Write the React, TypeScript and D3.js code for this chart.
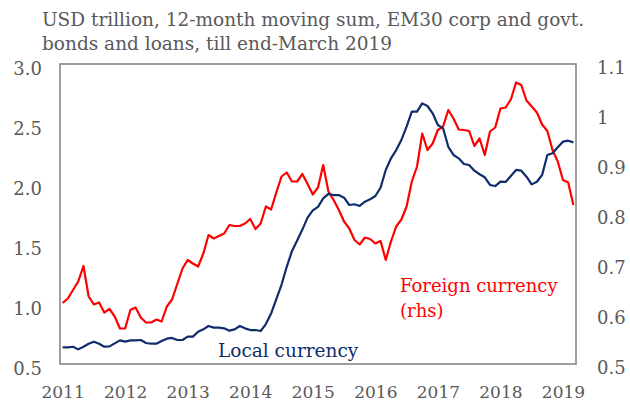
import React, { useEffect, useRef } from 'react';
import * as d3 from 'd3';

const titleLines = [
  'USD trillion, 12-month moving sum, EM30 corp and govt.',
  'bonds and loans, till end-March 2019'
];

const years = ['2011', '2012', '2013', '2014', '2015', '2016', '2017', '2018', '2019'];

// monthly categories, Jan 2011 .. Mar 2019
const months: string[] = [];
years.forEach(y => {
  for (let m = 1; m <= 12; m++) {
    if (y === '2019' && m > 3) break;
    months.push(`${y}-${String(m).padStart(2, '0')}`);
  }
});

// left axis, USD trillion
const localCurrency = [
  0.639, 0.639, 0.644, 0.622, 0.644, 0.669, 0.686, 0.669, 0.644, 0.647, 0.672, 0.697,
  0.686, 0.697, 0.697, 0.700, 0.675, 0.669, 0.669, 0.692, 0.711, 0.717, 0.700, 0.700,
  0.728, 0.728, 0.769, 0.789, 0.817, 0.803, 0.803, 0.797, 0.778, 0.789, 0.817, 0.797,
  0.783, 0.783, 0.775, 0.833, 0.920, 1.040, 1.160, 1.310, 1.440, 1.530, 1.620, 1.720,
  1.780, 1.810, 1.880, 1.917, 1.908, 1.908, 1.886, 1.825, 1.831, 1.817, 1.853, 1.872,
  1.900, 1.969, 2.117, 2.214, 2.283, 2.367, 2.478, 2.603, 2.603, 2.672, 2.650, 2.589,
  2.492, 2.464, 2.310, 2.242, 2.214, 2.167, 2.158, 2.111, 2.081, 2.056, 1.992, 1.983,
  2.019, 2.017, 2.067, 2.117, 2.111, 2.061, 1.997, 2.019, 2.075, 2.242, 2.256, 2.306,
  2.353, 2.361, 2.347
];

// right axis (rhs), USD trillion
const foreignCurrency = [
  0.622, 0.631, 0.648, 0.665, 0.696, 0.635, 0.619, 0.623, 0.603, 0.610, 0.595, 0.571,
  0.571, 0.608, 0.613, 0.593, 0.583, 0.583, 0.589, 0.585, 0.615, 0.629, 0.660, 0.691,
  0.708, 0.701, 0.695, 0.721, 0.758, 0.751, 0.756, 0.761, 0.778, 0.776, 0.776, 0.781,
  0.790, 0.770, 0.781, 0.815, 0.809, 0.843, 0.875, 0.883, 0.865, 0.865, 0.880, 0.860,
  0.839, 0.853, 0.898, 0.845, 0.828, 0.808, 0.785, 0.771, 0.748, 0.739, 0.753, 0.750,
  0.741, 0.746, 0.708, 0.745, 0.775, 0.789, 0.815, 0.865, 0.895, 0.961, 0.928, 0.941,
  0.968, 0.975, 1.008, 0.991, 0.969, 0.968, 0.966, 0.936, 0.951, 0.918, 0.965, 0.973,
  1.011, 1.013, 1.029, 1.063, 1.058, 1.027, 1.015, 1.003, 0.979, 0.966, 0.928, 0.905,
  0.868, 0.863, 0.818
];

const leftTicks = [0.5, 1.0, 1.5, 2.0, 2.5, 3.0];
const rightTicks = [0.5, 0.6, 0.7, 0.8, 0.9, 1.0, 1.1];
const rightTickLabels = ['0.5', '0.6', '0.7', '0.8', '0.9', '1', '1.1'];

const FONT = '"DejaVu Serif", Georgia, serif';
const GREY = '#595959';
const NAVY = '#0f2d6b';
const RED = '#ff0000';

const App = () => {
  const svgRef = useRef<SVGSVGElement>(null);

  useEffect(() => {
    const svg = d3.select(svgRef.current);
    svg.selectAll('*').remove();

    const plot = { left: 60, right: 576, top: 64, bottom: 364 };

    const x = d3.scalePoint<string>()
      .domain(months)
      .range([plot.left, plot.right])
      .padding(0.5);

    const yLeft = d3.scaleLinear().domain([0.5, 3.0]).range([plot.bottom, plot.top]);
    const yRight = d3.scaleLinear().domain([0.5, 1.1]).range([plot.bottom, plot.top]);

    // title
    svg.append('g')
      .selectAll('text')
      .data(titleLines)
      .enter().append('text')
      .attr('x', 42)
      .attr('y', (d, i) => 26 + i * 24)
      .style('font-family', FONT)
      .style('font-size', '18.5px')
      .style('fill', GREY)
      .text(d => d);

    // plot frame
    svg.append('rect')
      .attr('x', plot.left)
      .attr('y', plot.top)
      .attr('width', plot.right - plot.left)
      .attr('height', plot.bottom - plot.top)
      .attr('fill', 'none')
      .attr('stroke', '#808080')
      .attr('stroke-width', 1.5);

    // left axis
    const axL = svg.append('g')
      .attr('transform', `translate(${plot.left},0)`)
      .call(d3.axisLeft(yLeft).tickValues(leftTicks).tickFormat(d3.format('.1f')).tickSize(0).tickPadding(18));
    axL.select('.domain').remove();
    axL.selectAll('text')
      .attr('dy', '0.6em')
      .style('font-family', FONT)
      .style('font-size', '18px')
      .style('fill', GREY);

    // right axis
    const axR = svg.append('g')
      .attr('transform', `translate(${plot.right},0)`)
      .call(d3.axisRight(yRight).tickValues(rightTicks)
        .tickFormat((d, i) => rightTickLabels[i]).tickSize(0).tickPadding(21));
    axR.select('.domain').remove();
    axR.selectAll('text')
      .attr('dy', '0.5em')
      .style('font-family', FONT)
      .style('font-size', '18px')
      .style('fill', GREY);

    // bottom axis: a label at January of every year
    const axB = svg.append('g')
      .attr('transform', `translate(0,${plot.bottom})`)
      .call(d3.axisBottom(x).tickValues(years.map(y => `${y}-01`))
        .tickFormat(d => d.slice(0, 4)).tickSize(0).tickPadding(22));
    axB.select('.domain').remove();
    axB.selectAll('text')
      .style('font-family', FONT)
      .style('font-size', '17px')
      .style('fill', GREY);

    // lines
    const localLine = d3.line<number>()
      .x((d, i) => x(months[i]) as number)
      .y(d => yLeft(d));

    const foreignLine = d3.line<number>()
      .x((d, i) => x(months[i]) as number)
      .y(d => yRight(d));

    svg.append('path')
      .datum(foreignCurrency)
      .attr('fill', 'none')
      .attr('stroke', RED)
      .attr('stroke-width', 2.2)
      .attr('stroke-linejoin', 'round')
      .attr('d', foreignLine);

    svg.append('path')
      .datum(localCurrency)
      .attr('fill', 'none')
      .attr('stroke', NAVY)
      .attr('stroke-width', 2.2)
      .attr('stroke-linejoin', 'round')
      .attr('d', localLine);

    // series labels
    svg.append('text')
      .attr('x', 218)
      .attr('y', 357)
      .style('font-family', FONT)
      .style('font-size', '18.5px')
      .style('fill', NAVY)
      .text('Local currency');

    const fLabel = svg.append('text')
      .style('font-family', FONT)
      .style('font-size', '18px')
      .style('fill', RED);
    fLabel.append('tspan').attr('x', 400).attr('y', 292).text('Foreign currency');
    fLabel.append('tspan').attr('x', 400).attr('y', 317).text('(rhs)');
  }, []);

  return (
    <svg
      ref={svgRef}
      width={630}
      height={405}
      style={{ position: 'absolute', left: 0, top: 0, background: '#fff' }}
    />
  );
};

export default App;
